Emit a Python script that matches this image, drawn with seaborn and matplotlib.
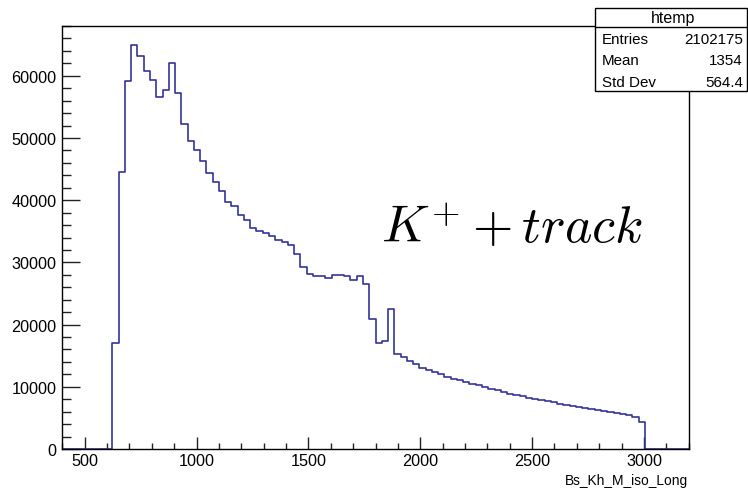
import numpy as np
import pandas as pd
import matplotlib
matplotlib.use("Agg")
import matplotlib.pyplot as plt
import seaborn as sns
from matplotlib.ticker import MultipleLocator
from matplotlib.patches import Rectangle
from matplotlib.lines import Line2D

# ---- data ----
x_min, x_max, n_bins = 400, 3200, 100
counts = [0, 0, 0, 0, 0, 0, 0, 0,
          17000, 44600, 59100, 64900, 63100, 60800, 59300, 56600, 57700, 62100,
          57200, 52300, 49500, 48000, 46300, 44350, 42870, 41530, 39660, 39120,
          37670, 36760, 35500, 35100, 34730, 34190, 33600, 33330, 32850, 31300,
          29210, 28130, 27860, 27760, 27540, 27970, 27970, 27810, 27220, 27860,
          26580, 20900, 17040, 17310, 22510, 15220, 14740, 14150, 13670, 13070,
          12650, 12330, 12010, 11620, 11300, 11090, 10820, 10500, 10240, 9970,
          9700, 9440, 9120, 8840, 8680, 8470, 8250, 8090, 7930, 7720,
          7510, 7230, 7070, 6910, 6750, 6590, 6430, 6220, 6060, 5890,
          5730, 5570, 5410, 5140, 4290,
          0, 0, 0, 0, 0, 0, 0]
x_label = "Bs_Kh_M_iso_Long"
stats_title = "htemp"
stats_names = ["Entries", "Mean", "Std Dev"]
stats_values = ["2102175", "1354", "564.4"]
annotation = r"$K^{+} + track$"

bin_width = (x_max - x_min) / n_bins
centers = x_min + bin_width * (np.arange(n_bins) + 0.5)
df = pd.DataFrame({"x": centers, "w": np.array(counts, dtype=float)})

# ---- figure ----
sns.set_style("white")
plt.rcParams["font.family"] = ["Liberation Sans", "DejaVu Sans"]
plt.rcParams["mathtext.fontset"] = "cm"
plt.rcParams["text.color"] = "black"
plt.rcParams["xtick.labelcolor"] = "black"
plt.rcParams["ytick.labelcolor"] = "black"

W, H = 748, 489
fig = plt.figure(figsize=(W / 100, H / 100), dpi=100)
fig.patch.set_facecolor("white")
ax = fig.add_axes([62.3 / W, (H - 450) / H, 626.4 / W, 423.3 / H])

sns.histplot(data=df, x="x", weights="w", binwidth=bin_width,
             binrange=(x_min, x_max), element="step",
             fill=False, color="#333399", linewidth=1.2, ax=ax)

ax.set_xlim(x_min, x_max)
ax.set_ylim(0, 68050)
ax.set_ylabel("")
ax.set_xlabel("")
for s in ax.spines.values():
    s.set_color("black")
    s.set_linewidth(1.0)
    s.set_zorder(5)

ax.xaxis.set_major_locator(MultipleLocator(500))
ax.xaxis.set_minor_locator(MultipleLocator(100))
ax.yaxis.set_major_locator(MultipleLocator(10000))
ax.yaxis.set_minor_locator(MultipleLocator(2000))
ax.tick_params(axis="x", which="major", direction="in", length=8.9, width=1.0,
               color="#222222", labelcolor="black", labelsize=11.7, pad=3,
               bottom=True, top=False)
ax.tick_params(axis="x", which="minor", direction="in", length=4.3, width=1.0,
               color="#222222", bottom=True, top=False)
ax.tick_params(axis="y", which="major", direction="in", length=12.7, width=1.0,
               color="#222222", labelcolor="black", labelsize=11.7, pad=4,
               left=True, right=False)
ax.tick_params(axis="y", which="minor", direction="in", length=6.7, width=1.0,
               color="#222222", left=True, right=False)

fig.text(688 / W, 1 - 481 / H, x_label, ha="right", va="center", fontsize=9.9,
         color="black")

# annotation
fig.text(381 / W, 1 - 243 / H, annotation, ha="left", va="baseline", fontsize=37.5,
         color="black")

# stats box
bx0, bx1, by0, by1 = 595, 747, 9, 92
def fx(px):
    return px / W
def fy(py):
    return 1 - py / H
fig.patches.append(Rectangle((fx(bx0), fy(by1)), fx(bx1) - fx(bx0), fy(by0) - fy(by1),
                             transform=fig.transFigure, facecolor="white",
                             edgecolor="black", linewidth=1.0, zorder=10))
fig.lines.append(Line2D([fx(bx0), fx(bx1)], [fy(27.7), fy(27.7)], transform=fig.transFigure,
                        color="black", linewidth=1.0, zorder=11))
fig.text(fx(673), fy(18), stats_title, ha="center", va="center", fontsize=11.5,
         color="black", zorder=12)
for i, (n, v) in enumerate(zip(stats_names, stats_values)):
    yc = 40 + 21.5 * i
    fig.text(fx(602), fy(yc), n, ha="left", va="center", fontsize=10.9,
             color="black", zorder=12)
    fig.text(fx(743), fy(yc), v, ha="right", va="center", fontsize=10.9,
             color="black", zorder=12)

fig.savefig("out.png", dpi=100, facecolor="white")
